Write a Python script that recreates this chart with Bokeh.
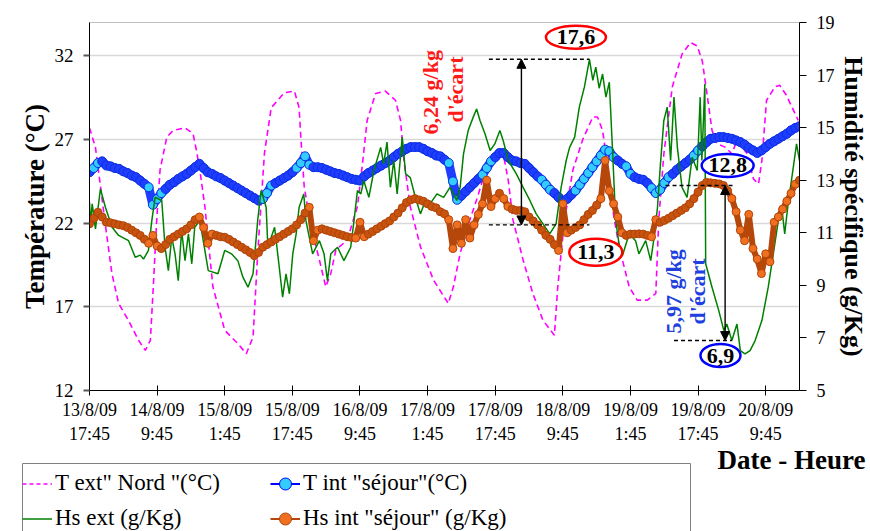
from math import pi
from bokeh.plotting import figure
from bokeh.layouts import column
from bokeh.models import (Range1d, LinearAxis, FixedTicker, Legend, LegendItem,
                          Label, Arrow, NormalHead)
from bokeh.embed import file_html
from bokeh.resources import INLINE

SERIF = "Liberation Serif"

# ---------------- data (hours from 13/8/09 17:45) ----------------
X_TICKS = [0, 16, 32, 48, 64, 80, 96, 112, 128, 144, 160]
X_LABELS = ["13/8/09\n17:45", "14/8/09\n9:45", "15/8/09\n1:45", "15/8/09\n17:45",
            "16/8/09\n9:45", "17/8/09\n1:45", "17/8/09\n17:45", "18/8/09\n9:45",
            "19/8/09\n1:45", "19/8/09\n17:45", "20/8/09\n9:45"]
T_TICKS = [12, 17, 22, 27, 32]
H_TICKS = [5, 7, 9, 11, 13, 15, 17, 19]

# T ext "Nord" (°C) : (hour, value)
T_EXT = [(0, 27.7), (1.4, 26.55), (2.6, 24.2), (3.8, 21.8), (5.3, 19.0), (6.9, 17.2),
         (9.2, 16.2), (11.6, 15.0), (13.2, 14.4), (14.4, 15.0), (15.1, 18.2), (15.9, 22.2),
         (16.7, 25.2), (18.3, 27.15), (19.8, 27.55), (22.6, 27.7), (24.5, 27.35), (25.3, 26.35),
         (26.1, 25.2), (27.3, 23.0), (29.2, 18.2), (32, 15.6), (35.1, 14.8), (37.1, 14.2),
         (38.7, 15.2), (39.8, 20.2), (41.4, 26.2), (43, 28.9), (46.1, 29.8), (48.5, 29.9),
         (49.6, 28.9), (50, 27.15), (50.8, 24.2), (52.4, 21.8), (54.4, 19.8), (55.9, 18.2),
         (57.1, 19.0), (58.3, 20.4), (61, 21.0), (63.4, 23.0), (64.5, 25.35), (65.7, 28.15),
         (67.7, 29.75), (70, 29.9), (72.4, 29.35), (73.6, 28.15), (74.4, 25.75), (75.9, 23.0),
         (78.3, 20.6), (81.4, 18.6), (84.9, 17.2), (86.1, 18.2), (87.7, 20.2), (90, 22.2),
         (91.6, 23.4), (94, 25.35), (96.7, 26.35), (97.9, 26.15), (99.1, 24.55), (100.2, 22.2),
         (102.6, 19.8), (104.9, 17.8), (107.3, 16.2), (110, 15.3), (110.8, 18.2), (112.4, 22.2),
         (114.4, 25.2), (116.7, 27.0), (119.1, 28.35), (120.2, 28.35), (121.4, 27.55),
         (122.2, 26.15), (123, 24.2), (124.2, 22.2), (125.3, 20.6), (127.7, 18.2), (129.6, 17.4),
         (132, 17.4), (134, 17.8), (134.7, 22.2), (135.9, 26.15), (137.9, 30.15), (140.2, 32.1),
         (142.2, 32.8), (143.8, 32.6), (145, 31.7), (146.1, 29.75), (147.3, 27.55), (148.5, 26.75),
         (150.4, 26.55), (152, 26.15), (153.2, 26.95), (155.5, 26.2), (157.1, 24.65),
         (158.3, 24.35), (159.1, 25.75), (160.2, 29.35), (162.2, 30.15), (163.3, 30.25),
         (164.9, 29.65), (167.7, 28.15)]

# T int "séjour" (°C), one value per hour, 0..168
T_INT = [25.05, 25.3, 25.6, 25.7, 25.45, 25.4, 25.3, 25.25, 25.1, 25.0,
         24.85, 24.75, 24.55, 24.35, 24.15, 23.1, 23.45, 23.8, 24.05, 24.3,
         24.45, 24.65, 24.8, 24.95, 25.15, 25.35, 25.55, 25.3, 25.05, 24.95,
         24.8, 24.7, 24.55, 24.4, 24.25, 24.1, 23.95, 23.8, 23.65, 23.5,
         23.35, 23.45, 23.8, 24.25, 24.4, 24.55, 24.7, 24.85, 25.05, 25.3,
         25.6, 26.0, 25.5, 25.35, 25.35, 25.3, 25.2, 25.1, 25.0, 24.95,
         24.85, 24.75, 24.65, 24.6, 24.55, 24.8, 25.0, 25.15, 25.3, 25.45,
         25.6, 25.75, 25.95, 26.15, 26.3, 26.45, 26.55, 26.55, 26.55, 26.45,
         26.3, 26.2, 26.05, 26.0, 25.8, 25.6, 24.5, 23.4, 23.65, 23.9,
         24.15, 24.4, 24.65, 24.9, 25.3, 25.7, 25.95, 26.2, 26.2, 25.95,
         25.75, 25.7, 25.6, 25.55, 25.3, 25.05, 24.8, 24.6, 24.3, 24.0,
         23.8, 23.55, 23.3, 23.45, 23.7, 23.95, 24.3, 24.65, 25.0, 25.35,
         25.7, 26.05, 26.4, 26.3, 25.95, 25.75, 25.55, 25.4, 24.95, 24.75,
         24.65, 24.6, 24.4, 24.1, 23.8, 24.0, 24.4, 24.75, 24.95, 25.2,
         25.4, 25.6, 25.8, 26.05, 26.35, 26.6, 26.85, 27.05, 27.1, 27.15,
         27.15, 27.1, 27.05, 26.95, 26.85, 26.7, 26.5, 26.35, 26.2, 26.35,
         26.55, 26.75, 26.9, 27.05, 27.2, 27.35, 27.55, 27.7, 27.8]

# Hs ext (g/Kg) : (hour, value)
HS_EXT = [(0, 12.16), (0.24, 11.34), (0.64, 12.1), (1.41, 11.15), (2.59, 12.67), (3.76, 11.97),
          (5.34, 11.21), (6.89, 10.9), (9.25, 10.7), (10.82, 10.07), (12.0, 10.15), (12.78, 10.0),
          (13.95, 10.33), (14.75, 11.47), (15.53, 12.35), (17.1, 12.23), (17.88, 10.45),
          (18.66, 9.56), (19.46, 10.83), (20.24, 10.2), (21.0, 9.18), (21.8, 11.09), (22.6, 9.94),
          (23.4, 10.96), (24.2, 9.82), (24.9, 11.21), (26.1, 11.47), (27.3, 10.33), (28.1, 9.56),
          (30.4, 9.44), (32.0, 10.33), (33.6, 10.2), (35.1, 9.94), (36.3, 9.31), (37.5, 8.93),
          (38.7, 9.44), (39.8, 11.47), (40.6, 12.61), (41.8, 11.97), (42.2, 10.45), (43.8, 11.21),
          (44.9, 9.69), (45.7, 8.55), (46.5, 9.44), (47.3, 8.68), (48.1, 10.2), (48.9, 10.96),
          (49.6, 11.97), (50.7, 12.48), (51.2, 11.47), (52.8, 10.2), (54.4, 10.7), (55.5, 10.2),
          (56.3, 9.18), (57.1, 10.2), (58.7, 10.45), (60.2, 9.94), (61.8, 10.45), (62.6, 11.47),
          (63.4, 12.61), (64.2, 12.48), (64.9, 12.99), (66.1, 12.35), (67.3, 13.37), (68.9, 14.25),
          (69.6, 13.62), (70.4, 14.45), (71.2, 12.73), (72.0, 13.75), (72.8, 12.48), (74.0, 14.64),
          (74.8, 13.24), (75.9, 13.1), (77.1, 12.35), (78.3, 11.72), (79.5, 12.23), (80.6, 12.1),
          (82.2, 12.48), (83.8, 12.35), (85.3, 12.73), (86.9, 12.23), (87.7, 12.73), (88.5, 14.0),
          (89.6, 14.89), (90.8, 15.4), (91.6, 15.71), (92.4, 15.27), (93.6, 14.76), (94.8, 14.13),
          (95.9, 14.38), (97.1, 14.89), (97.9, 14.5), (99.1, 13.75), (101.0, 13.24), (102.6, 12.73),
          (104.2, 12.23), (105.7, 11.72), (107.3, 11.34), (108.9, 10.96), (110.4, 11.34),
          (111.6, 12.73), (112.8, 13.75), (113.6, 14.25), (114.8, 14.64), (115.9, 15.78),
          (117.1, 16.54), (118.3, 17.6), (119.1, 16.8), (119.8, 17.3), (120.6, 16.5), (121.4, 17.04),
          (122.2, 16.16), (123.0, 16.73), (123.8, 14.0), (124.5, 11.47), (125.3, 10.58),
          (126.1, 10.13), (127.7, 10.96), (129.2, 10.7), (130.0, 10.2), (131.6, 10.7), (132.8, 9.94),
          (133.6, 10.83), (134.4, 11.97), (135.1, 13.62), (135.9, 15.27), (136.7, 15.78),
          (137.5, 13.75), (138.3, 16.16), (139.1, 14.25), (140.2, 12.73), (141.4, 12.35),
          (142.6, 13.87), (143.8, 13.37), (144.5, 16.16), (144.9, 13.75), (145.6, 16.66),
          (145.8, 9.82), (147.3, 8.93), (148.9, 8.04), (150.1, 7.28), (150.8, 7.53), (152.0, 6.9),
          (153.2, 7.53), (154.0, 6.52), (155.1, 6.39), (156.3, 6.52), (157.5, 6.9), (159.1, 7.66),
          (160.6, 8.93), (161.8, 10.2), (163.0, 11.47), (163.8, 11.97), (164.5, 10.96),
          (165.3, 12.1), (166.1, 12.99), (167.3, 14.38), (168.0, 13.75)]

# Hs int "séjour" (g/Kg), one value per hour, 0..168
HS_INT = [11.34, 11.55, 11.78, 11.6, 11.4, 11.38, 11.34, 11.3, 11.27, 11.2,
          11.1, 11.0, 10.9, 10.75, 10.6, 10.9, 10.5, 10.4, 10.55, 10.75,
          10.85, 10.95, 11.05, 11.15, 11.3, 11.5, 11.6, 11.2, 10.6, 10.95,
          10.9, 10.85, 10.83, 10.75, 10.65, 10.55, 10.45, 10.35, 10.25, 10.13,
          10.25, 10.45, 10.55, 10.65, 10.75, 10.85, 10.95, 11.05, 11.15, 11.3,
          11.5, 11.75, 11.97, 10.7, 11.1, 11.15, 11.1, 11.05, 11.0, 10.95,
          10.9, 10.85, 10.82, 10.8, 11.4, 10.85, 10.95, 11.05, 11.15, 11.25,
          11.35, 11.45, 11.6, 11.75, 11.95, 12.15, 12.25, 12.3, 12.25, 12.2,
          12.1, 12.0, 11.95, 11.8, 11.72, 11.5, 10.4, 11.3, 10.6, 11.5,
          10.8, 11.3, 11.7, 12.1, 13.0, 12.0, 12.3, 12.5, 12.3, 12.0,
          11.9, 11.85, 11.85, 11.8, 11.6, 11.45, 11.3, 11.1, 10.9, 10.75,
          10.55, 10.33, 12.1, 11.0, 11.1, 11.2, 11.3, 11.5, 11.7, 11.85,
          12.05, 12.3, 13.75, 12.6, 12.1, 11.6, 11.0, 10.9, 10.95, 10.95,
          10.96, 10.95, 10.9, 10.85, 11.5, 11.4, 11.47, 11.55, 11.65, 11.75,
          11.85, 11.95, 12.1, 12.3, 12.55, 12.8, 12.92, 12.9, 12.88, 12.86,
          12.8, 12.6, 12.3, 11.8, 11.1, 10.7, 11.7, 10.4, 10.0, 9.45,
          10.2, 9.9, 11.4, 11.6, 11.9, 12.2, 12.5, 12.85, 13.0]

HOURS = list(range(len(T_INT)))

# annotated values
RED_TOP, RED_BOTTOM = 17.6, 11.3
BLUE_TOP, BLUE_BOTTOM = 12.8, 6.9

# colours
BLUE, CYAN = "#1f3dff", "#33ccff"
BROWN, ORANGE = "#b5470b", "#f07020"


def point_fills(vals, base, light, thr):
    """light marker where the series jumps (markers spread apart), base colour elsewhere"""
    out = []
    for i, v in enumerate(vals):
        prev = vals[i - 1] if i > 0 else v
        nxt = vals[i + 1] if i + 1 < len(vals) else v
        out.append(light if max(abs(v - prev), abs(v - nxt)) > thr else base)
    return out


# ---------------- main figure ----------------
W = 870
H1 = 446
p = figure(width=W, height=H1, output_backend="svg", toolbar_location=None,
           x_range=Range1d(0, 168), y_range=Range1d(12, 34),
           min_border_left=89, min_border_right=67, min_border_top=22, min_border_bottom=56,
           background_fill_color="white", border_fill_color="white")
p.frame_align = False
p.extra_y_ranges = {"hs": Range1d(5, 19)}
p.outline_line_color = "#c0c0c0"

xa = p.xaxis[0]
xa.ticker = FixedTicker(ticks=X_TICKS)
xa.major_label_overrides = {t: l for t, l in zip(X_TICKS, X_LABELS)}
xa.major_label_text_font = SERIF
xa.major_label_text_font_size = "18px"
xa.major_label_text_color = "black"
xa.major_tick_in = 5
xa.major_tick_out = 5
xa.minor_tick_line_color = None
xa.axis_line_color = "black"
xa.major_tick_line_color = "black"
xa.major_label_standoff = 4

ya = p.yaxis[0]
ya.ticker = FixedTicker(ticks=T_TICKS)
ya.axis_label = "Température (°C)"
ya.axis_label_text_font = SERIF
ya.axis_label_text_font_style = "bold"
ya.axis_label_text_font_size = "27px"
ya.axis_label_text_color = "black"
ya.axis_label_standoff = 2
ya.major_label_text_font = SERIF
ya.major_label_text_font_size = "19px"
ya.major_label_text_color = "black"
ya.major_tick_in = 0
ya.major_tick_out = 6
ya.major_tick_line_color = "#595959"
ya.major_tick_line_width = 2
ya.minor_tick_line_color = None
ya.axis_line_color = "black"
ya.major_label_standoff = 10

ra = LinearAxis(y_range_name="hs", ticker=FixedTicker(ticks=H_TICKS),
                axis_label="Humidité spécifique (g/Kg)")
ra.axis_label_text_font = SERIF
ra.axis_label_text_font_style = "bold"
ra.axis_label_text_font_size = "26px"
ra.axis_label_text_color = "black"
ra.axis_label_standoff = 1
ra.major_label_text_font = SERIF
ra.major_label_text_font_size = "18px"
ra.major_label_text_color = "black"
ra.major_tick_in = 0
ra.major_tick_out = 7
ra.minor_tick_line_color = None
ra.axis_line_color = "black"
ra.major_tick_line_color = "black"
ra.major_label_standoff = 10
p.add_layout(ra, "right")

p.xgrid.visible = False
p.ygrid.ticker = FixedTicker(ticks=T_TICKS)
p.ygrid.grid_line_color = "#d9d9d9"
p.ygrid.grid_line_width = 1.5

# series
p.line([h for h, _ in T_EXT], [v for _, v in T_EXT], line_color="#ff00ff",
       line_width=1.6, line_dash="6 4")
p.line(HOURS, T_INT, line_color=BLUE, line_width=9)
p.scatter(HOURS, T_INT, size=9, marker="circle",
          fill_color=point_fills(T_INT, BLUE, CYAN, 0.3), line_color="#0b2fe0", line_width=1)
p.line([h for h, _ in HS_EXT], [v for _, v in HS_EXT], line_color="#008000",
       line_width=1.5, y_range_name="hs")
p.line(HOURS, HS_INT, line_color=BROWN, line_width=6, y_range_name="hs")
p.scatter(HOURS, HS_INT, size=8, marker="circle",
          fill_color=point_fills(HS_INT, "#c8530f", ORANGE, 0.3),
          line_color="#b04408", line_width=1, y_range_name="hs")

# annotations
for (x0, x1), yv in [((94.5, 118.3), RED_TOP), ((94.5, 118.3), RED_BOTTOM),
                     ((136.3, 152.4), BLUE_TOP), ((138.3, 152.0), BLUE_BOTTOM)]:
    p.line([x0, x1], [yv, yv], line_color="black", line_dash="4 3", line_width=1.4,
           y_range_name="hs")

for xa_, top, bot in [(102.2, RED_TOP, RED_BOTTOM), (150.4, BLUE_TOP, BLUE_BOTTOM)]:
    p.add_layout(Arrow(start=NormalHead(size=9, fill_color="black", line_color="black"),
                       end=NormalHead(size=9, fill_color="black", line_color="black"),
                       x_start=xa_, y_start=bot, x_end=xa_, y_end=top,
                       line_color="black", line_width=1.4, y_range_name="hs"))

ELL = [(115.1, 18.44, 60, 23, "#ff0000", "17,6"),
       (119.8, 10.26, 53, 27, "#ff0000", "11,3"),
       (151.0, 13.56, 52, 23, "#0000ff", "12,8"),
       (149.3, 6.33, 40, 23, "#0000ff", "6,9")]
for ex, ey, ew, eh, col, txt in ELL:
    p.ellipse([ex], [ey], width=ew, height=eh, width_units="screen", height_units="screen",
              fill_color="white", line_color=col, line_width=2.5, y_range_name="hs")
    p.add_layout(Label(x=ex, y=ey, y_range_name="hs", text=txt, text_align="center",
                       text_baseline="middle", text_font=SERIF, text_font_style="bold",
                       text_font_size="22px", text_color="black"))

for tx, ty, txt, col in [(80.7, 16.45, "6,24  g/kg", "#ff1a1a"), (86.6, 16.45, "d'écart", "#ff1a1a"),
                         (138.1, 8.77, "5,97 g/kg", "#2040e0"), (143.9, 8.77, "d'écart", "#2040e0")]:
    p.add_layout(Label(x=tx, y=ty, y_range_name="hs", text=txt, angle=pi / 2,
                       text_align="center", text_baseline="middle", text_font=SERIF,
                       text_font_style="bold", text_font_size="22px", text_color=col))

# ---------------- legend strip ----------------
H2 = 531 - H1
q = figure(width=W, height=H2, output_backend="svg", toolbar_location=None,
           x_range=Range1d(0, W), y_range=Range1d(0, H2),
           x_axis_location=None, y_axis_location=None,
           min_border=0, min_border_left=0, min_border_right=0, min_border_top=0,
           min_border_bottom=0, background_fill_color="white", border_fill_color="white")
q.frame_align = False
q.grid.visible = False
q.outline_line_color = None

OFF = [-50, -40]  # dummy glyphs outside the visible range, used only by the legend
l_text = q.line(OFF, OFF, line_color="#ff00ff", line_width=1.6, line_dash="4 3")
l_tint = q.line(OFF, OFF, line_color="#0000ff", line_width=2)
m_tint = q.scatter(OFF, OFF, size=8, marker="circle", fill_color=CYAN, line_color="#0000ff")
l_hsext = q.line(OFF, OFF, line_color="#008000", line_width=1.5)
l_hsint = q.line(OFF, OFF, line_color=BROWN, line_width=2)
m_hsint = q.scatter(OFF, OFF, size=7, marker="circle", fill_color=ORANGE, line_color="#b04408")

# legend frame box
q.quad(left=[22], right=[690], top=[H2 - 17], bottom=[-5], fill_color=None,
       line_color="#808080", line_width=1)


def make_legend(items, x):
    lg = Legend(items=items, location=(x, -3.5))
    lg.label_text_font = SERIF
    lg.label_text_font_size = "23px"
    lg.label_text_color = "black"
    lg.glyph_width = 30
    lg.glyph_height = 33
    lg.label_height = 33
    lg.label_standoff = 3
    lg.spacing = 2
    lg.padding = 0
    lg.margin = 0
    lg.border_line_color = None
    lg.background_fill_alpha = 0
    return lg


q.add_layout(make_legend([LegendItem(label='T ext" Nord "(°C)', renderers=[l_text]),
                          LegendItem(label='Hs ext (g/Kg)', renderers=[l_hsext])], 22))
q.add_layout(make_legend([LegendItem(label='T int "séjour"(°C)', renderers=[l_tint, m_tint]),
                          LegendItem(label='Hs int "séjour" (g/Kg)',
                                     renderers=[l_hsint, m_hsint])], 270))

q.add_layout(Label(x=865, y=H2 - 13, text="Date - Heure", text_align="right",
                   text_baseline="middle", text_font=SERIF, text_font_style="bold",
                   text_font_size="27px", text_color="black"))

root = column(p, q, spacing=0)
open("out.html", "w").write(file_html(root, INLINE))
